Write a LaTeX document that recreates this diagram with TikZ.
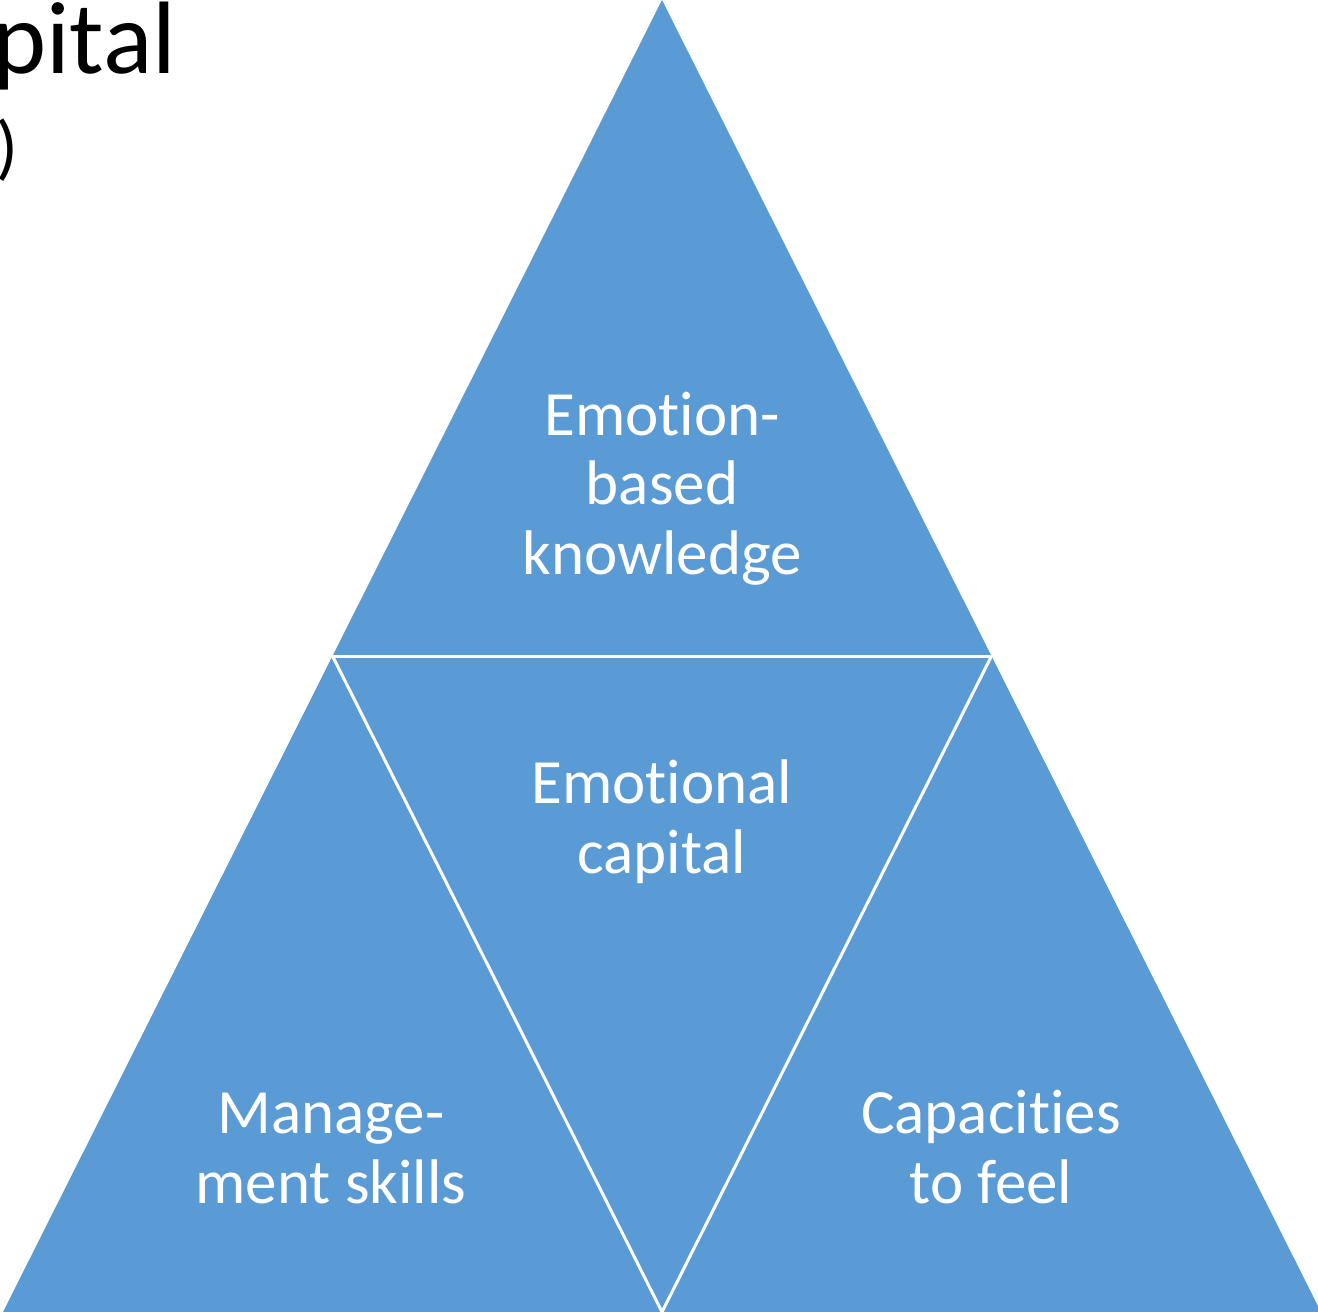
\documentclass[tikz,border=0pt]{standalone}
\usepackage{fontspec}
\setmainfont{Carlito}[Ligatures=NoCommon]
\definecolor{tri}{HTML}{5B9BD5}
\begin{document}
\begin{tikzpicture}[x=1pt,y=-1pt,
  piece/.style={fill=tri},
  sep/.style={draw=white,line width=3pt},
  lbl/.style={text=white,font=\fontsize{63}{69.5}\selectfont,align=center,inner sep=0pt,anchor=base},
  head/.style={text=black,inner sep=0pt,anchor=base west}]
\useasboundingbox (0,0) rectangle (1318,1312);
\clip (0,0) rectangle (1318,1312);
\coordinate (A) at (662,0);
\coordinate (L) at (332.5,656);
\coordinate (R) at (991.5,656);
\coordinate (BL) at (3,1312);
\coordinate (BM) at (662,1312);
\coordinate (BR) at (1321,1312);
\fill[piece] (A) -- (BL) -- (BR) -- cycle;
\draw[sep] (L) -- (R);
\draw[sep] (L) -- (BM) -- (R);
\node[lbl] (top) at (662,574) {Emotion-\\based\\knowledge};
\node[lbl] (mid) at (662,873) {Emotional\\capital};
\node[lbl] (left) at (331,1203) {Manage-\\ment skills};
\node[lbl] (right) at (991,1203) {Capacities\\to feel};
\node[head,font=\fontsize{103}{110}\selectfont] (title) at (-8,73) {pital};
\node[head,font=\fontsize{72}{76}\selectfont] (sub) at (-4,171) {)};
\end{tikzpicture}
\end{document}
